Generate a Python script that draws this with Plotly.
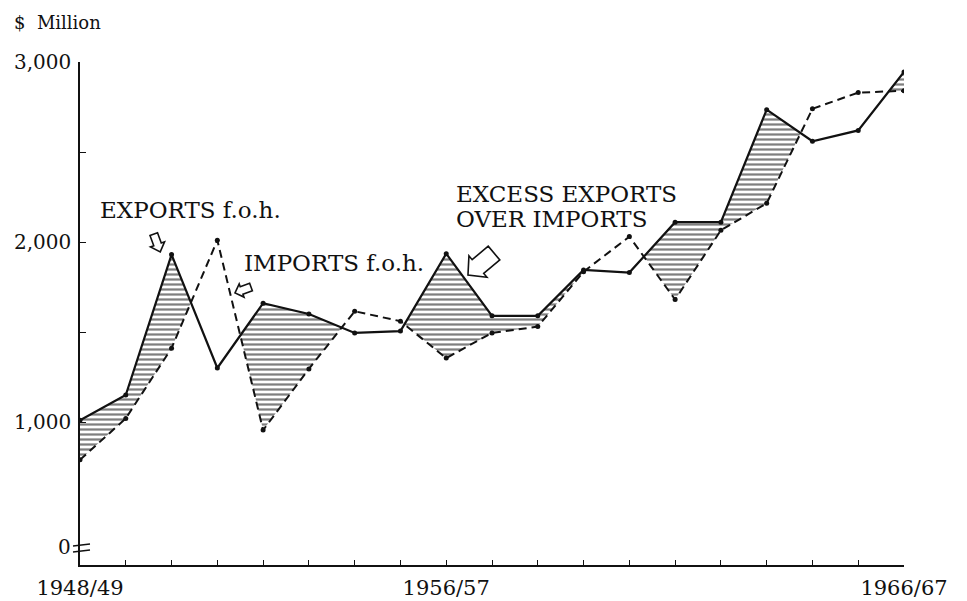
import math
import plotly.graph_objects as go

# ---------------- data ----------------
years = list(range(1948, 1967))
label_years = [1948, 1956, 1966]
label_text = ["1948/49", "1956/57", "1966/67"]
exports = [1010, 1150, 1930, 1300, 1660, 1600, 1495, 1505, 1935, 1590,
           1590, 1845, 1830, 2110, 2110, 2735, 2560, 2620, 2945]
imports = [790, 1020, 1410, 2010, 955, 1295, 1615, 1560, 1355, 1495,
           1530, 1835, 2030, 1680, 2065, 2215, 2740, 2830, 2840]
y_tickvals = [1000, 1500, 2000, 2500, 3000]
y_ticktext = ["1,000", "", "2,000", "", "3,000"]

# ---------------- layout geometry (screen pixels) ----------------
SCREEN_W, SCREEN_H = 967, 601
OFF = 8                      # default page body margin
W, H = SCREEN_W - OFF, SCREEN_H - OFF
PL, PR, PT, PB = 80, 904, 62, 565
Y_RANGE = [205.6, 3000]
FONT = "DejaVu Serif"
INK = "#111111"


def px(x):
    return (x - PL) / (PR - PL)


def py(y):
    return (PB - y) / (PB - PT)


def arrow_path(cx, cy, ang, L, wh, ws, lh):
    a = math.radians(ang)
    ux, uy = math.cos(a), math.sin(a)
    vx, vy = -uy, ux
    local = [(-L / 2, ws / 2), (L / 2 - lh, ws / 2), (L / 2 - lh, wh / 2),
             (L / 2, 0), (L / 2 - lh, -wh / 2), (L / 2 - lh, -ws / 2),
             (-L / 2, -ws / 2)]
    pts = []
    for s, t in local:
        X = cx + s * ux + t * vx
        Y = cy + s * uy + t * vy
        pts.append((px(X), py(Y)))
    return "M " + " L ".join(f"{a_:.5f},{b_:.5f}" for a_, b_ in pts) + " Z"


# ---------------- hatched excess region ----------------
xs, lo, hi = [], [], []
n = len(years)
for i in range(n):
    e, m = exports[i], imports[i]
    xs.append(years[i]); lo.append(m); hi.append(max(e, m))
    if i < n - 1:
        d0 = e - m
        d1 = exports[i + 1] - imports[i + 1]
        if d0 * d1 < 0:
            t = d0 / (d0 - d1)
            xc = years[i] + t
            yc = m + t * (imports[i + 1] - m)
            xs.append(xc); lo.append(yc); hi.append(yc)

fig = go.Figure()
fig.add_trace(go.Scatter(x=xs, y=lo, mode="lines", line=dict(width=0),
                         hoverinfo="skip", showlegend=False))
fig.add_trace(go.Scatter(
    x=xs, y=hi, mode="lines", line=dict(width=0), fill="tonexty",
    fillcolor="rgba(0,0,0,0)",
    fillpattern=dict(shape="-", size=5, solidity=0.45, fgcolor="#000000",
                     bgcolor="white"),
    hoverinfo="skip", showlegend=False))

# imports (dashed) and exports (solid)
fig.add_trace(go.Scatter(x=years, y=imports, mode="lines+markers",
                         line=dict(color=INK, width=2, dash="8px,5px"),
                         marker=dict(size=5, color=INK),
                         name="Imports f.o.b.", showlegend=False))
fig.add_trace(go.Scatter(x=years, y=exports, mode="lines+markers",
                         line=dict(color=INK, width=2.2),
                         marker=dict(size=5, color=INK),
                         name="Exports f.o.b.", showlegend=False))

# ---------------- annotations ----------------
def text_at(text, x, y, size, xanchor="left"):
    return dict(text=text, x=px(x), y=py(y), xref="paper", yref="paper",
                xanchor=xanchor, yanchor="middle", showarrow=False,
                font=dict(family=FONT, size=size, color=INK))


ann = [
    text_at("$  Million", 12, 22, 18),
    text_at("0", 73, 547, 20, xanchor="right"),
    text_at("EXPORTS f.o.h.", 98, 210, 23),
    text_at("IMPORTS f.o.h.", 242, 263, 23),
    text_at("EXCESS EXPORTS", 454, 194, 23),
    text_at("OVER IMPORTS", 454, 219, 23),
]

shapes = []
for (cx, cy, ang, L, wh, ws, lh) in [(157, 243, 70, 19, 15, 8, 8),
                                     (243, 290, 160, 17, 14, 8, 7),
                                     (481, 264, 140, 34, 28, 18, 13)]:
    shapes.append(dict(type="path", xref="paper", yref="paper",
                       path=arrow_path(cx, cy, ang, L, wh, ws, lh),
                       line=dict(color=INK, width=1.6), fillcolor="white"))
# axis break marks
for yb in (545, 551):
    shapes.append(dict(type="line", xref="paper", yref="paper",
                       x0=px(73), y0=py(yb + 1), x1=px(90), y1=py(yb - 1),
                       line=dict(color=INK, width=1.5)))

fig.update_layout(
    width=W, height=H,
    margin=dict(l=PL - OFF, r=SCREEN_W - PR, t=PT - OFF, b=SCREEN_H - PB,
                autoexpand=False),
    paper_bgcolor="white", plot_bgcolor="white",
    annotations=ann, shapes=shapes,
    xaxis=dict(range=[years[0], years[-1]], showgrid=False, zeroline=False,
               automargin=False,
               showline=True, linecolor=INK, linewidth=1.5,
               ticks="inside", ticklen=5, tickcolor=INK, tickwidth=1.2,
               tickvals=years,
               ticktext=[label_text[label_years.index(y)] if y in label_years else ""
                         for y in years],
               tickfont=dict(family=FONT, size=21, color=INK),
               ticklabelstandoff=3),
    yaxis=dict(range=Y_RANGE, showgrid=False, zeroline=False,
               automargin=False,
               showline=True, linecolor=INK, linewidth=1.5,
               ticks="inside", ticklen=6, tickcolor=INK, tickwidth=1.2,
               tickvals=y_tickvals, ticktext=y_ticktext,
               tickfont=dict(family=FONT, size=20, color=INK),
               ticklabelstandoff=3),
)

fig.write_html("out.html")
